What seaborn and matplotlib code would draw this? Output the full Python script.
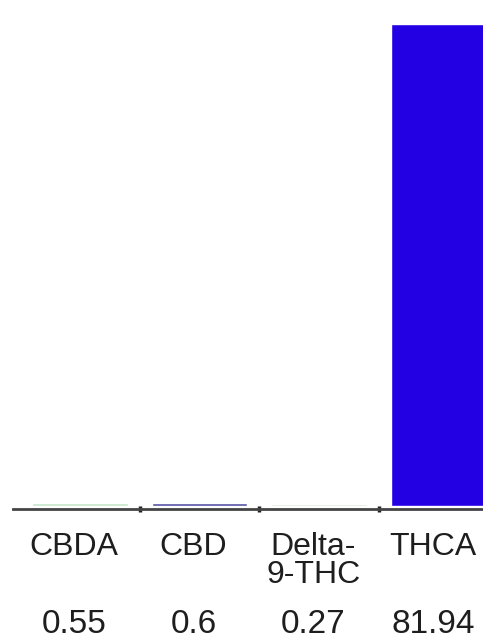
import matplotlib
matplotlib.use("Agg")
import matplotlib.pyplot as plt
import matplotlib.transforms as mtransforms
import seaborn as sns
import pandas as pd

# ====================================================
# DATA
# ====================================================

compounds = ["CBDA", "CBD", "Delta-\n9-THC", "THCA"]
percent = [0.55, 0.6, 0.27, 81.94]
value_labels = ["0.55", "0.6", "0.27", "81.94"]
bar_colors = ["#c4e4c8", "#5452a4", "#d6e6cf", "#2300e4"]

df = pd.DataFrame({"compound": compounds, "percent": percent})

# ====================================================
# PLOT
# ====================================================

sns.set_theme(style="white")
plt.rcParams["font.family"] = ["Liberation Sans", "DejaVu Sans"]

fig = plt.figure(figsize=(4.83, 6.4), dpi=100)
ax = fig.add_axes([13 / 483, 131 / 640, 1 - 13 / 483, 509 / 640])

sns.barplot(
    data=df,
    x="compound",
    y="percent",
    hue="compound",
    palette=bar_colors,
    legend=False,
    width=0.8,
    saturation=1,
    ax=ax,
)

ax.set_xlim(-0.56, 3.37)
ax.set_ylim(-0.5, 86.0)

for s in ["top", "right", "left"]:
    ax.spines[s].set_visible(False)
ax.spines["bottom"].set_color("#444444")
ax.spines["bottom"].set_linewidth(2)

ax.set_yticks([])
ax.set_xticks([0.5, 1.5, 2.5])
ax.set_xticklabels([])
ax.tick_params(axis="x", bottom=True, length=5, width=2.5,
               color="#222222", direction="inout")
ax.set_xlabel("")
ax.set_ylabel("")

trans = mtransforms.blended_transform_factory(ax.transData, ax.transAxes)
shift = mtransforms.ScaledTranslation(-6 / 100, 0, fig.dpi_scale_trans)

for i, name in enumerate(compounds):
    ax.text(i, -0.046, name, transform=trans + shift, ha="center", va="top",
            fontsize=23, color="#1e1e1e", linespacing=0.9, clip_on=False)
    ax.text(i, -0.243, value_labels[i], transform=trans + shift, ha="center",
            va="baseline", fontsize=24, color="#1e1e1e", clip_on=False)

fig.savefig("out.png", dpi=100, facecolor="white")
